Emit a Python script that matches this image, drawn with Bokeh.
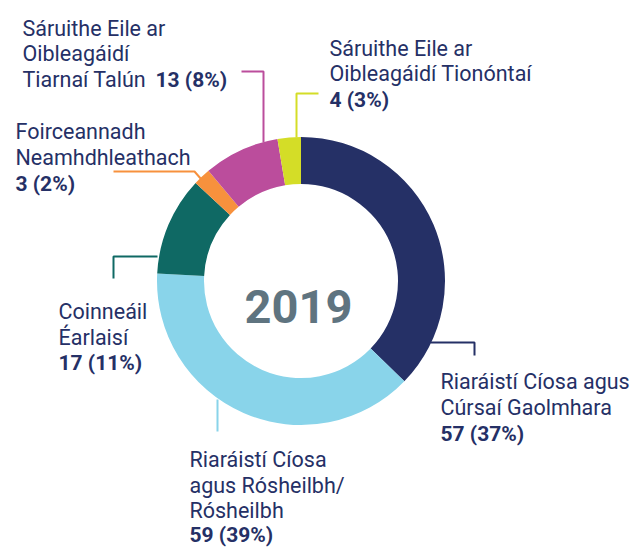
import numpy as np
from bokeh.plotting import figure
from bokeh.models import Range1d, ColumnDataSource
from bokeh.core.properties import value
from bokeh.embed import file_html
from bokeh.resources import INLINE

# ---------------- data ----------------
categories = [
    "Riaráistí Cíosa agus Cúrsaí Gaolmhara",
    "Riaráistí Cíosa agus Rósheilbh/Rósheilbh",
    "Coinneáil Éarlaisí",
    "Foirceannadh Neamhdhleathach",
    "Sáruithe Eile ar Oibleagáidí Tiarnaí Talún",
    "Sáruithe Eile ar Oibleagáidí Tionóntaí",
]
label_lines = [
    ["Riaráistí Cíosa agus", "Cúrsaí Gaolmhara"],
    ["Riaráistí Cíosa", "agus Rósheilbh/", "Rósheilbh"],
    ["Coinneáil", "Éarlaisí"],
    ["Foirceannadh", "Neamhdhleathach"],
    ["Sáruithe Eile ar", "Oibleagáidí", "Tiarnaí Talún"],
    ["Sáruithe Eile ar", "Oibleagáidí Tionóntaí"],
]
counts = [57, 59, 17, 3, 13, 4]
percents = [37, 39, 11, 2, 8, 3]
year = "2019"

# ---------------- styles / layout ----------------
colors = ["#253066", "#89d4ea", "#0f6964", "#f7913d", "#bb4d9c", "#d4dd27"]
TEXT_COLOR = "#253066"
YEAR_COLOR = "#5f7480"
FONT = "Roboto"
FS = "21.5px"
FS_B = "21px"

W, H = 643, 548


def X(px):
    return px


def Y(py):
    return H - py


CX, CY = X(300.5), Y(280.5)
R_IN, R_OUT = 97, 144

# label layout: (x, [baselines of normal lines], (bold x, bold baseline))
label_layout = [
    (440, [381, 407], (440, 433)),
    (189, [459, 485, 510], (189, 534)),
    (58, [311, 337], (58, 362)),
    (15, [131, 157], (15, 183)),
    (22, [28, 53, 79], (155, 79)),
    (329, [48, 73], (329, 99)),
]
leaders = [
    [(430, 342), (474, 342), (474, 355)],
    [(217, 399), (217, 431)],
    [(157, 256), (113, 256), (113, 278)],
    [(201, 179), (194, 171), (113, 171)],
    [(263, 142), (263, 71), (241, 71)],
    [(296, 137), (296, 93), (318, 93)],
]

p = figure(width=W, height=H, x_range=Range1d(0, W), y_range=Range1d(0, H),
           output_backend="svg", toolbar_location=None, min_border=0,
           x_axis_location=None, y_axis_location=None)
p.grid.visible = False
p.outline_line_color = None
p.background_fill_color = "white"
p.border_fill_color = "white"

# donut
total = sum(counts)
fracs = np.array(counts) / total
ends_cum = np.cumsum(fracs)
starts_cum = ends_cum - fracs
start_angles = np.pi / 2 - starts_cum * 2 * np.pi
end_angles = np.pi / 2 - ends_cum * 2 * np.pi
src = ColumnDataSource(dict(x=[CX] * len(counts), y=[CY] * len(counts),
                            start=start_angles, end=end_angles, color=colors,
                            cat=categories))
p.annular_wedge(x="x", y="y", inner_radius=R_IN, outer_radius=R_OUT,
                start_angle="start", end_angle="end", direction="clock",
                fill_color="color", line_color=None, source=src)

# leader lines
for pts, c in zip(leaders, colors):
    p.line([X(a) for a, b in pts], [Y(b) for a, b in pts], line_color=c, line_width=2)

# labels
nx, ny, nt = [], [], []
bx, by, bt = [], [], []
for i, (lx, bases, (bxx, byy)) in enumerate(label_layout):
    for line, yb in zip(label_lines[i], bases):
        nx.append(X(lx)); ny.append(Y(yb)); nt.append(line)
    bx.append(X(bxx)); by.append(Y(byy)); bt.append(f"{counts[i]} ({percents[i]}%)")

p.text(x=nx, y=ny, text=nt, text_font=value(FONT), text_font_size=FS,
       text_color=TEXT_COLOR, text_align="left", text_baseline="alphabetic")
p.text(x=bx, y=by, text=bt, text_font=value(FONT), text_font_size=FS_B,
       text_font_style="bold", text_color=TEXT_COLOR, text_align="left",
       text_baseline="alphabetic")

# centre year
p.text(x=[X(298)], y=[Y(306)], text=[year], text_font=value(FONT),
       text_font_size="47px", text_font_style="bold", text_color=YEAR_COLOR,
       text_align="center", text_baseline="alphabetic")

open("out.html", "w").write(file_html(p, INLINE))
